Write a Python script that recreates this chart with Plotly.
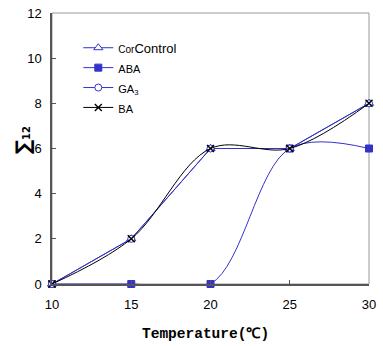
import plotly.graph_objects as go

temps = [10, 15, 20, 25, 30]
control = [0, 2, 6, 6, 8]
aba = [0, 0, 0, 6, 6]
ga3 = [0, 2, 6, 6, 8]
ba = [0, 2, 6, 6, 8]

x_ticks = [10, 15, 20, 25, 30]
y_ticks = [0, 2, 4, 6, 8, 10, 12]

blue = "#3333CC"

def small(s):
    return "<span style='font-size:11px'>" + s + "</span>"

fig = go.Figure()
fig.add_trace(go.Scatter(
    x=temps, y=control, mode="lines+markers",
    name="<span style='font-size:10px'>Cor</span>Control",
    line=dict(color=blue, width=1),
    marker=dict(symbol="triangle-up", size=8, color="white", line=dict(color=blue, width=1)),
    cliponaxis=False))
fig.add_trace(go.Scatter(
    x=temps, y=aba, mode="lines+markers", name=small("ABA"),
    line=dict(color=blue, width=1, shape="spline"),
    marker=dict(symbol="square", size=7, color=blue, line=dict(color=blue, width=1)),
    cliponaxis=False))
fig.add_trace(go.Scatter(
    x=temps, y=ga3, mode="lines+markers", name=small("GA<sub>3</sub>"),
    line=dict(color=blue, width=1),
    marker=dict(symbol="circle", size=7, color="white", line=dict(color=blue, width=1)),
    cliponaxis=False))
fig.add_trace(go.Scatter(
    x=temps, y=ba, mode="lines+markers", name=small("BA"),
    line=dict(color="black", width=1, shape="spline"),
    marker=dict(symbol="x-thin", size=7, color="black", line=dict(color="black", width=1.4)),
    cliponaxis=False))

fig.add_shape(type="rect", xref="x domain", yref="y domain", x0=0, x1=1, y0=0, y1=1,
              line=dict(color="#999999", width=1), layer="below")

# axis titles
fig.add_annotation(text="Temperature(℃)", xref="paper", yref="paper",
                   x=0.483, y=-0.183, xanchor="center", yanchor="middle", showarrow=False,
                   font=dict(family="Liberation Mono", size=14.5, color="black", weight="bold"))
fig.add_annotation(text="<b>∑<span style='font-size:10px'>12</span></b>", xref="paper", yref="paper",
                   x=-0.091, y=0.531, xanchor="center", yanchor="middle", showarrow=False,
                   textangle=-90, font=dict(family="DejaVu Sans", size=20, color="black"))

fig.update_layout(
    width=383, height=346,
    margin=dict(l=52, r=14, t=13, b=62),
    paper_bgcolor="white", plot_bgcolor="white",
    font=dict(family="Liberation Sans, Arial", size=13, color="black"),
    showlegend=True,
    legend=dict(x=0.083, y=0.927, xanchor="left", yanchor="top",
                bgcolor="rgba(0,0,0,0)", font=dict(size=13), itemwidth=30,
                tracegroupgap=0),
    xaxis=dict(range=[10, 30], tickvals=x_ticks, ticks="inside", ticklen=4,
               tickcolor="#555555", showline=True, linecolor="#555555", linewidth=1.5,
               showgrid=False, zeroline=False, ticklabelstandoff=8, automargin=False),
    yaxis=dict(range=[0, 12], tickvals=y_ticks, ticks="inside", ticklen=4,
               tickcolor="#555555", showline=True, linecolor="#555555", linewidth=1.5,
               showgrid=False, zeroline=False, ticklabelstandoff=6, automargin=False),
)

# remove the browser's default 8px body margin so the figure fills the window exactly
fig.write_html("out.html", config={"displayModeBar": False},
               post_script="document.body.style.margin='0px';")
